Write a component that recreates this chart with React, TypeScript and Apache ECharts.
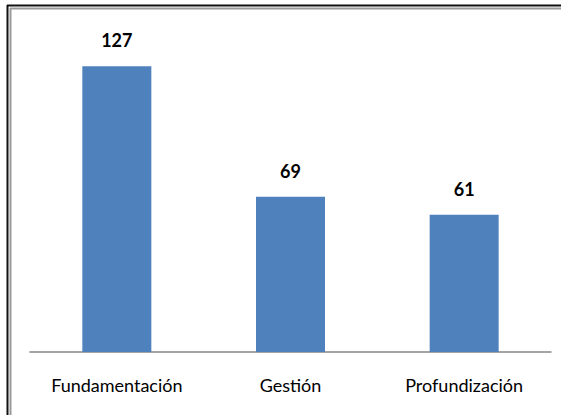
import React, { useEffect, useRef } from "react";
import * as echarts from "echarts";

const categories = ["Fundamentación", "Gestión", "Profundización"];
const values = [127, 69, 61];

export default function App() {
  const ref = useRef<HTMLDivElement>(null);
  useEffect(() => {
    if (!ref.current) return;
    const chart = echarts.init(ref.current, null, { renderer: "svg" });
    const font = "Lato, 'Noto Sans', sans-serif";
    chart.setOption({
      animation: false,
      backgroundColor: "#ffffff",
      grid: { left: 30, right: 10, top: 37, bottom: 63 },
      xAxis: {
        type: "category",
        data: categories,
        axisLine: { show: true, lineStyle: { color: "#868686", width: 1.5 } },
        axisTick: { show: false },
        axisLabel: { interval: 0, color: "#000000", fontFamily: font, fontSize: 18, margin: 24 },
      },
      yAxis: {
        type: "value",
        min: 0,
        max: 140,
        show: false,
        splitLine: { show: false },
      },
      series: [
        {
          type: "bar",
          data: values,
          barWidth: 69,
          itemStyle: { color: "#4F81BD" },
          label: {
            show: true,
            position: "top",
            distance: 17,
            color: "#000000",
            fontFamily: font,
            fontSize: 18,
            fontWeight: "bold",
          },
        },
      ],
      graphic: [
        { type: "line", shape: { x1: 7.5, y1: 5, x2: 7.5, y2: 415 }, style: { stroke: "#111111", lineWidth: 2 } },
        { type: "line", shape: { x1: 10.5, y1: 8, x2: 10.5, y2: 415 }, style: { stroke: "#9a9a9a", lineWidth: 2 } },
        { type: "line", shape: { x1: 7, y1: 5.5, x2: 561, y2: 5.5 }, style: { stroke: "#111111", lineWidth: 2 } },
        { type: "line", shape: { x1: 10, y1: 8.5, x2: 561, y2: 8.5 }, style: { stroke: "#9a9a9a", lineWidth: 2 } },
      ],
    });
    return () => chart.dispose();
  }, []);
  return (
    <div
      ref={ref}
      style={{ position: "fixed", left: 0, top: 0, width: 561, height: 415 }}
    />
  );
}
